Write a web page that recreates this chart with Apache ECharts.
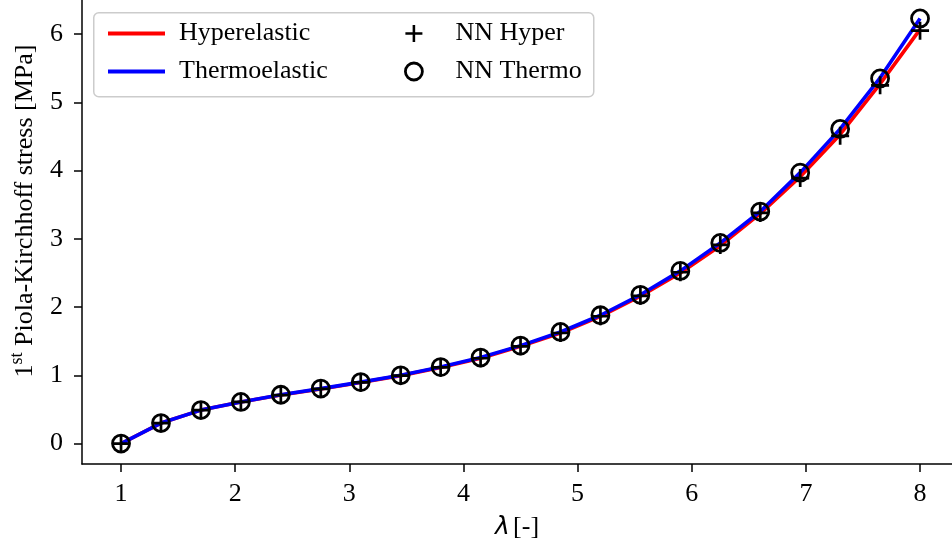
<!DOCTYPE html>
<html>
<head>
<meta charset="utf-8">
<script src="https://cdn.jsdelivr.net/npm/echarts@6/dist/echarts.min.js"></script>
<style>
  html, body { margin: 0; padding: 0; background: #fff; }
  #chart { width: 952px; height: 551px; }
</style>
</head>
<body>
<div id="chart"></div>
<script>
// Stretch values lambda [-]
const stretch = [1.00, 1.35, 1.70, 2.05, 2.40, 2.75, 3.10, 3.45, 3.80, 4.15, 4.50,
                 4.85, 5.20, 5.55, 5.90, 6.25, 6.60, 6.95, 7.30, 7.65, 8.00];

// First Piola-Kirchhoff stress [MPa], analytic models
const hyperelastic = [0, 0.30, 0.49, 0.61, 0.71, 0.80, 0.895, 0.995, 1.115, 1.25, 1.425,
                      1.62, 1.865, 2.16, 2.50, 2.90, 3.37, 3.91, 4.53, 5.27, 6.07];
const thermoelastic = [0, 0.30, 0.49, 0.61, 0.715, 0.805, 0.90, 1.00, 1.12, 1.26, 1.435,
                       1.635, 1.88, 2.18, 2.53, 2.94, 3.40, 3.97, 4.61, 5.36, 6.23];

// Neural network predictions
const nnHyper = [0, 0.30, 0.49, 0.61, 0.71, 0.80, 0.895, 0.995, 1.115, 1.25, 1.425,
                 1.62, 1.865, 2.165, 2.51, 2.91, 3.38, 3.89, 4.51, 5.25, 6.05];
const nnThermo = [0, 0.30, 0.49, 0.61, 0.715, 0.805, 0.90, 1.00, 1.12, 1.26, 1.435,
                  1.635, 1.88, 2.18, 2.53, 2.94, 3.40, 3.97, 4.61, 5.35, 6.23];

// Tick labels
const xTicks = [1, 2, 3, 4, 5, 6, 7, 8];
const yTicks = [0, 1, 2, 3, 4, 5, 6];

const pairs = (xs, ys) => xs.map((x, i) => [x, ys[i]]);

const SERIF = "'Liberation Serif', 'DejaVu Serif', serif";
const FS = 26;
// "+" marker outline
const PLUS = 'path://M-15,-100 L15,-100 L15,-15 L100,-15 L100,15 L15,15 L15,100 L-15,100 L-15,15 L-100,15 L-100,-15 L-15,-15 Z';

const chart = echarts.init(document.getElementById('chart'), null, { renderer: 'canvas' });

const axisCommon = {
  axisLine: { show: true, onZero: false, lineStyle: { color: '#000', width: 1.5 } },
  axisTick: { show: true, inside: false, length: 8, lineStyle: { color: '#000', width: 1.5 } },
  splitLine: { show: false },
  axisLabel: { color: '#000', fontFamily: SERIF, fontSize: FS }
};

chart.setOption({
  animation: false,
  backgroundColor: '#fff',
  grid: { left: 82, right: 0, top: 0, bottom: 87, containLabel: false, outerBoundsMode: 'none' },
  xAxis: {
    type: 'value', min: 0.658, max: 8.28,
    ...axisCommon,
    axisTick: { ...axisCommon.axisTick, customValues: xTicks },
    axisLabel: { ...axisCommon.axisLabel, customValues: xTicks, margin: 17 },
    name: '{i|λ} {n|[-]}',
    nameLocation: 'middle',
    nameGap: 50,
    nameTextStyle: {
      rich: {
        i: { fontFamily: "'DejaVu Sans', sans-serif", fontStyle: 'italic', fontSize: 25, color: '#000' },
        n: { fontFamily: SERIF, fontSize: FS, color: '#000' }
      }
    }
  },
  yAxis: {
    type: 'value', min: -0.30, max: 6.50,
    ...axisCommon,
    axisTick: { ...axisCommon.axisTick, customValues: yTicks },
    axisLabel: { ...axisCommon.axisLabel, customValues: yTicks, margin: 19 },
    name: '{n|1}{s|st}{n| Piola-Kirchhoff stress [MPa]}',
    nameLocation: 'middle',
    nameRotate: 90,
    nameGap: 44,
    nameTextStyle: {
      padding: [0, 0, 0, 42],
      rich: {
        n: { fontFamily: SERIF, fontSize: FS, color: '#000', lineHeight: 30, verticalAlign: 'bottom' },
        s: { fontFamily: SERIF, fontSize: 18, color: '#000', lineHeight: 30, verticalAlign: 'top' }
      }
    }
  },
  legend: [
    {
      orient: 'vertical', left: 103, top: 15, itemGap: 11,
      itemWidth: 57, itemHeight: 4, icon: 'rect',
      textStyle: { fontFamily: SERIF, fontSize: FS, color: '#000', padding: [0, 0, 0, 9], lineHeight: 27 },
      data: [
        { name: 'Hyperelastic', itemStyle: { color: '#ff0000' } },
        { name: 'Thermoelastic', itemStyle: { color: '#0000ff' } }
      ]
    },
    {
      orient: 'vertical', left: 399, top: 15, itemGap: 11,
      itemWidth: 17, itemHeight: 17,
      textStyle: { fontFamily: SERIF, fontSize: FS, color: '#000', padding: [0, 0, 0, 28], lineHeight: 27 },
      data: [
        { name: 'NN Hyper', icon: PLUS, itemStyle: { color: '#000', borderWidth: 0 } },
        { name: 'NN Thermo', icon: 'circle', itemStyle: { color: '#fff', borderColor: '#000', borderWidth: 2.8 } }
      ]
    }
  ],
  graphic: [
    {
      type: 'rect', left: 93, top: 12, z: 3,
      shape: { width: 500, height: 84, r: 5 },
      style: { fill: 'rgba(255,255,255,0.8)', stroke: '#cccccc', lineWidth: 1.5 }
    }
  ],
  series: [
    {
      name: 'Hyperelastic', type: 'line', data: pairs(stretch, hyperelastic),
      symbol: 'none', lineStyle: { color: '#ff0000', width: 3.6 }, itemStyle: { color: '#ff0000' }, z: 2
    },
    {
      name: 'Thermoelastic', type: 'line', data: pairs(stretch, thermoelastic),
      symbol: 'none', lineStyle: { color: '#0000ff', width: 3.6 }, itemStyle: { color: '#0000ff' }, z: 3
    },
    {
      name: 'NN Hyper', type: 'scatter', data: pairs(stretch, nnHyper),
      symbol: PLUS, symbolSize: 18, itemStyle: { color: '#000', opacity: 1 }, z: 4
    },
    {
      name: 'NN Thermo', type: 'scatter', data: pairs(stretch, nnThermo),
      symbol: 'circle', symbolSize: 17,
      itemStyle: { color: 'rgba(0,0,0,0)', borderColor: '#000', borderWidth: 2.8, opacity: 1 }, z: 5
    }
  ]
});
</script>
</body>
</html>
